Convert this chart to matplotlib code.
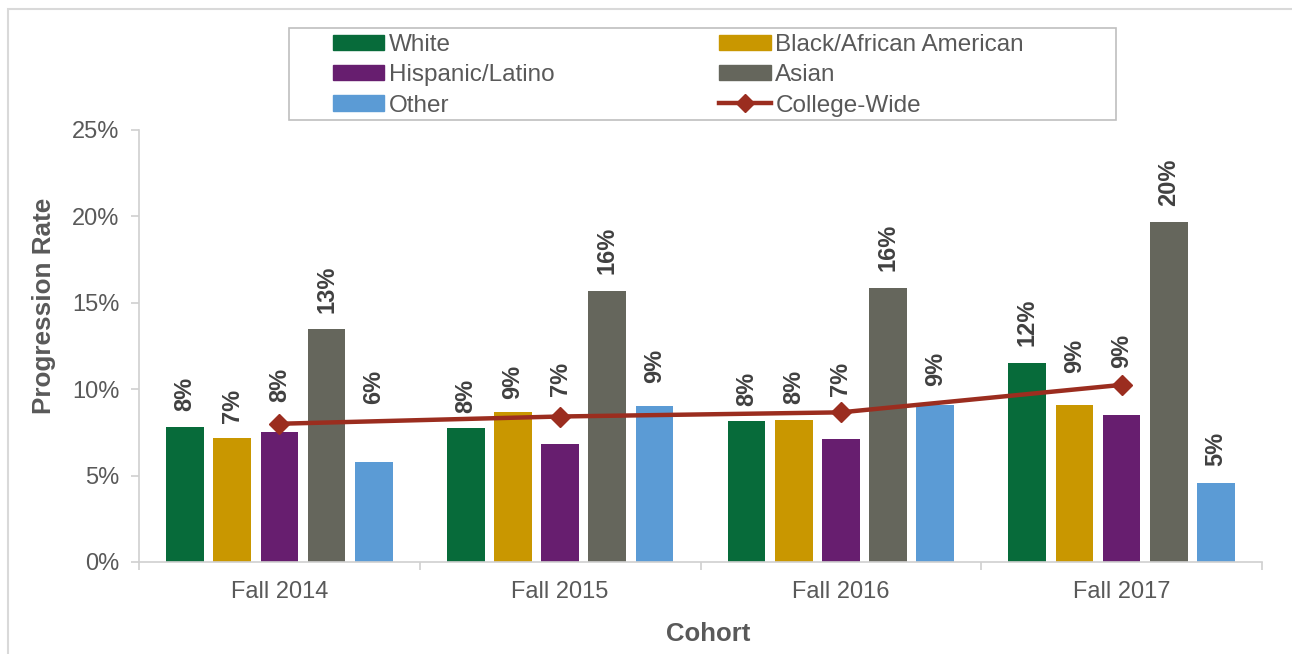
import numpy as np
import matplotlib
matplotlib.use("Agg")
import matplotlib.pyplot as plt
from matplotlib.patches import Rectangle, Patch
from matplotlib.lines import Line2D
from matplotlib.ticker import PercentFormatter

plt.rcParams['font.family'] = ['Liberation Sans', 'DejaVu Sans']

cohorts = ["Fall 2014", "Fall 2015", "Fall 2016", "Fall 2017"]
groups = ["White", "Black/African American", "Hispanic/Latino", "Asian", "Other"]

white = [7.8, 7.75, 8.15, 11.5]
black = [7.2, 8.66, 8.2, 9.07]
hispanic = [7.55, 6.82, 7.13, 8.5]
asian = [13.47, 15.66, 15.84, 19.7]
other = [5.8, 9.0, 9.1, 4.55]
college_wide = [8.0, 8.42, 8.66, 10.25]

# gap in pixels between bar top and its label (labels nudged clear of the line)
label_gap = [
    [17, 16, 16, 18],
    [16, 14, 17, 33],
    [31, 49, 44, 48],
    [17, 18, 18, 17],
    [59, 24, 20, 18],
]

colors = ["#076b3a", "#c99700", "#671e6f", "#65665c", "#5b9bd5"]
line_color = "#9b2d1f"
text_color = "#595959"
label_color = "#404040"
axis_color = "#d0d0d0"


def pct_label(v):
    # round half up, like the spreadsheet does
    return f"{int(np.floor(v + 0.5))}%"


W, H = 1292, 654
fig = plt.figure(figsize=(W / 100, H / 100), dpi=100)
ax = fig.add_axes([139 / W, 1 - 562 / H, (1262 - 139) / W, (562 - 130) / H])

x = np.arange(len(cohorts))
step = 0.168
width = 0.134
series = [white, black, hispanic, asian, other]
for i, (vals, col) in enumerate(zip(series, colors)):
    pos = x + (i - 2) * step
    bars = ax.bar(pos, vals, width, color=col, zorder=2)
    for j, (b, v) in enumerate(zip(bars, vals)):
        ax.annotate(pct_label(v),
                    (b.get_x() + b.get_width() / 2, v),
                    xytext=(0, (label_gap[i][j] - 1) * 0.72),
                    textcoords="offset points",
                    rotation=90, ha="center", va="bottom",
                    fontsize=17, fontweight="bold", color=label_color,
                    zorder=4)

ax.plot(x, college_wide, color=line_color, lw=3.2, marker="D",
        markersize=10, zorder=3)

ax.set_xlim(-0.5, len(cohorts) - 0.5)
ax.set_ylim(0, 25)
ax.set_yticks(np.arange(0, 26, 5))
ax.yaxis.set_major_formatter(PercentFormatter(decimals=0))
ax.set_xticks(x)
ax.set_xticklabels(cohorts)
ax.set_xticks(np.arange(-0.5, len(cohorts), 1), minor=True)
ax.tick_params(axis="x", which="major", length=0, pad=14,
               labelsize=17, labelcolor=text_color)
ax.tick_params(axis="x", which="minor", length=6, color=axis_color, width=1.2)
ax.tick_params(axis="y", length=6, color=axis_color, width=1.2, pad=8,
               labelsize=17, labelcolor=text_color)

for s in ["top", "right"]:
    ax.spines[s].set_visible(False)
for s in ["left", "bottom"]:
    ax.spines[s].set_color(axis_color)
    ax.spines[s].set_linewidth(1.2)

ax.set_ylabel("Progression Rate", fontsize=18.8, fontweight="bold",
              color=text_color)
ax.yaxis.set_label_coords(-0.0737, 0.593)
ax.set_xlabel("Cohort", fontsize=18.5, fontweight="bold", color=text_color)
ax.xaxis.set_label_coords(0.507, -0.139)

# legend, row-major order in two columns
handles = [Patch(color=c) for c in colors]
line_handle = Line2D([], [], color=line_color, lw=3.2, marker="D", markersize=9)
leg_handles = [handles[0], handles[2], handles[4], handles[1], handles[3], line_handle]
leg_labels = [groups[0], groups[2], groups[4], groups[1], groups[3], "College-Wide"]
fig.legend(leg_handles, leg_labels, ncol=2, mode="expand", frameon=False,
           loc="upper left", borderaxespad=0, borderpad=0,
           bbox_to_anchor=(333 / W, 1 - 34 / H, (1024 - 333) / W, 0),
           fontsize=17.5, handlelength=2.1, handleheight=0.6,
           handletextpad=0.2, labelspacing=0.34, labelcolor=text_color)
fig.add_artist(Rectangle((289 / W, 1 - 120 / H), (1116 - 289) / W, 92 / H,
                         transform=fig.transFigure, fill=False,
                         edgecolor="#bfbfbf", lw=1.2))

# outer chart border (right and bottom edges fall outside the image)
fig.add_artist(Rectangle((8 / W, -10 / H), (W + 20 - 8) / W, (654 - 9 + 10) / H,
                         transform=fig.transFigure, fill=False,
                         edgecolor="#d9d9d9", lw=1.5))

fig.savefig("out.png", dpi=100)
